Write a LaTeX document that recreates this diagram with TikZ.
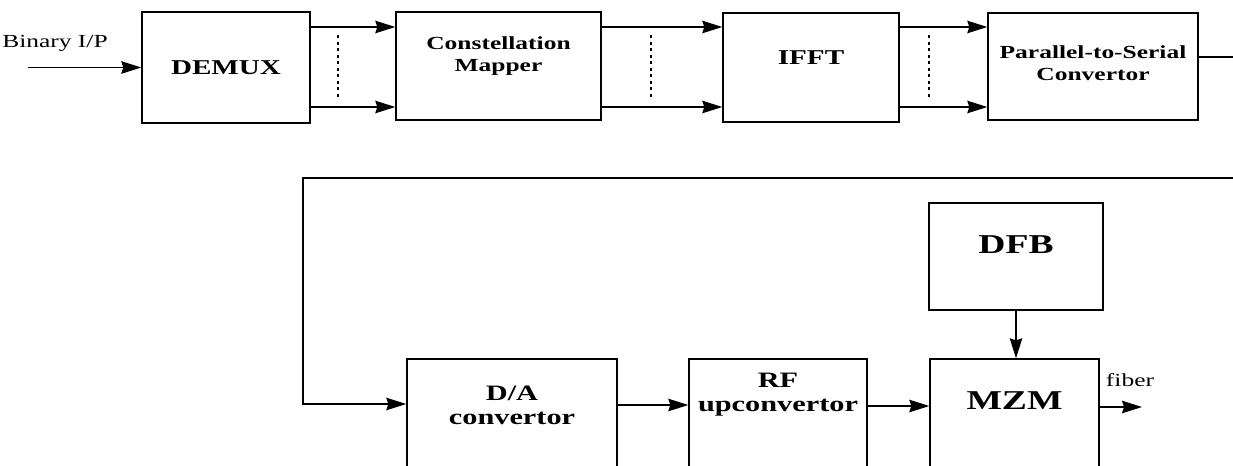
\documentclass[tikz,border=0pt]{standalone}
\usepackage{fontspec}
\setmainfont{Liberation Serif}[FakeStretch=1.38]
\usetikzlibrary{arrows.meta}

\begin{document}
\begin{tikzpicture}[x=0.2mm,y=-0.2mm,>={Stealth[length=4mm,width=2.5mm,inset=0.4mm]},
  every node/.style={font=\fontsize{10.5}{12}\selectfont},
  block/.style={draw,line width=0.8pt,inner sep=0pt,align=center},
  flow/.style={->,line width=0.7pt},
  dots/.style={line width=0.8pt,dash pattern=on 0.6mm off 0.7mm}]
  \useasboundingbox (0,0) rectangle (1233,465);
  \clip (0,0) rectangle (1233,465);
  \node[block,minimum width=33.6mm,minimum height=22.2mm,
    font=\bfseries\fontsize{12}{14}\selectfont] (demux) at (226,67.5) {DEMUX};
  \node[block,minimum width=41mm,minimum height=21.6mm,text depth=4.6mm,
    font=\bfseries\fontsize{10.5}{12.5}\selectfont] (mapper) at (498.5,66) {Constellation\\Mapper};
  \node[block,minimum width=35.2mm,minimum height=21.8mm,text depth=3.8mm,
    font=\bfseries\fontsize{12}{14}\selectfont] (ifft) at (811,67.5) {IFFT};
  \node[block,minimum width=42mm,minimum height=21.4mm,text depth=1.2mm,
    font=\bfseries\fontsize{10.5}{12.5}\selectfont] (ps) at (1093,66.5) {Parallel-to-Serial\\Convertor};
  \node[block,minimum width=42mm,minimum height=32.2mm,text depth=13.6mm,
    font=\bfseries\fontsize{12.5}{13.6}\selectfont] (dac) at (512,439.5) {D/A\\convertor};
  \node[block,minimum width=35.6mm,minimum height=32.2mm,text depth=18.8mm,
    font=\bfseries\fontsize{12.5}{13.6}\selectfont] (rfup) at (778,439.5) {RF\\upconvertor};
  \node[block,minimum width=33.8mm,minimum height=32.2mm,text depth=15.4mm,
    font=\bfseries\fontsize{15.5}{18}\selectfont] (mzm) at (1014.5,439.5) {MZM};
  \node[block,minimum width=34.8mm,minimum height=21.4mm,text depth=4.6mm,
    font=\bfseries\fontsize{15.5}{18}\selectfont] (dfb) at (1016,256.5) {DFB};
  \node (binary) at (55,43) {Binary I/P};
  \node (fiber) at (1130,380) {fiber};
  \coordinate (src) at (28,67.5);
  \coordinate (out) at (1142,407);
  \draw[flow] (src) -- (demux);
  \draw[flow] (demux.east |- 0,27) -- (mapper.west |- 0,27);
  \draw[flow] (demux.east |- 0,107) -- (mapper.west |- 0,107);
  \draw[flow] (mapper.east |- 0,27) -- (ifft.west |- 0,27);
  \draw[flow] (mapper.east |- 0,107) -- (ifft.west |- 0,107);
  \draw[flow] (ifft.east |- 0,27) -- (ps.west |- 0,27);
  \draw[flow] (ifft.east |- 0,107) -- (ps.west |- 0,107);
  \draw[dots] (338,35) -- (338,100);
  \draw[dots] (651,35) -- (651,100);
  \draw[dots] (929,35) -- (929,100);
  \draw[flow] (ps.east |- 0,57) -- (1250,57) -- (1250,178) -- (303,178) |- (dac.west |- 0,404);
  \draw[flow] (dac.east |- 0,405) -- (rfup.west |- 0,405);
  \draw[flow] (rfup.east |- 0,406) -- (mzm.west |- 0,406);
  \draw[flow] (dfb.south) -- (dfb.south |- mzm.north);
  \draw[flow] (mzm.east |- out) -- (out);
\end{tikzpicture}
\end{document}
